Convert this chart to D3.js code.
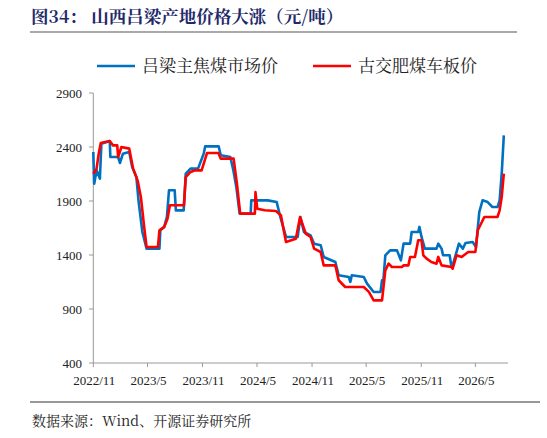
<!DOCTYPE html>
<html><head><meta charset="utf-8">
<script src="https://cdn.jsdelivr.net/npm/d3@7"></script>
<style>body{margin:0;background:#fff}</style>
</head><body>
<svg id="c" width="547" height="438"></svg>
<script>
var seriesNames = ["吕梁主焦煤市场价", "古交肥煤车板价"]
var seriesColors = ["#0070c0", "#ff0000"]
var yTicks = [400, 900, 1400, 1900, 2400, 2900]
var xTickLabels = ["2022/11", "2023/5", "2023/11", "2024/5", "2024/11", "2025/5", "2025/11", "2026/5"]

var lvliang = [
  ["2022-11-01",2354],["2022-11-04",2060],["2022-11-12",2184],["2022-11-23",2107],["2022-11-28",2431],
  ["2022-12-26",2455],["2022-12-28",2307],["2023-01-23",2307],["2023-01-29",2252],["2023-02-08",2338],
  ["2023-03-01",2354],["2023-03-11",2215],["2023-03-25",2122],["2023-04-01",1906],["2023-04-14",1613],
  ["2023-04-28",1459],["2023-06-10",1459],["2023-06-13",1628],["2023-06-26",1660],["2023-07-05",1752],
  ["2023-07-12",1999],["2023-07-31",1999],["2023-08-04",1813],["2023-08-30",1813],["2023-09-06",2153],
  ["2023-09-22",2200],["2023-10-17",2200],["2023-11-05",2338],["2023-11-10",2406],["2023-12-25",2406],
  ["2024-01-01",2323],["2024-02-02",2307],["2024-02-12",2184],["2024-02-22",2030],["2024-03-04",1783],
  ["2024-04-10",1783],["2024-04-12",1906],["2024-06-06",1906],["2024-07-06",1890],["2024-07-18",1752],
  ["2024-08-06",1567],["2024-09-14",1567],["2024-09-23",1752],["2024-10-05",1613],["2024-10-27",1582],
  ["2024-11-08",1505],["2024-11-30",1490],["2024-12-10",1382],["2025-01-18",1335],["2025-01-29",1212],
  ["2025-03-04",1196],["2025-03-09",1150],["2025-03-14",1212],["2025-04-23",1196],["2025-05-04",1135],
  ["2025-05-26",1058],["2025-06-18",1058],["2025-06-23",1166],["2025-06-27",1150],["2025-07-04",1397],
  ["2025-07-20",1443],["2025-08-12",1443],["2025-08-25",1351],["2025-09-03",1505],["2025-09-25",1505],
  ["2025-09-30",1613],["2025-10-22",1613],["2025-10-26",1660],["2025-11-02",1567],["2025-11-13",1459],
  ["2025-12-22",1459],["2025-12-28",1505],["2026-01-08",1459],["2026-01-13",1397],["2026-02-04",1397],
  ["2026-02-10",1289],["2026-02-14",1304],["2026-03-07",1505],["2026-03-20",1459],["2026-03-29",1511],
  ["2026-04-22",1520],["2026-05-03",1474],["2026-05-14",1798],["2026-05-25",1906],["2026-06-11",1890],
  ["2026-06-27",1844],["2026-07-14",1844],["2026-07-21",1906],["2026-07-28",2153],["2026-08-04",2508]
]
var gujiao = [
  ["2022-11-01",2153],["2022-11-12",2200],["2022-11-19",2338],["2022-11-26",2437],["2022-12-26",2455],
  ["2023-01-06",2415],["2023-01-20",2415],["2023-01-23",2307],["2023-02-03",2400],["2023-03-01",2385],
  ["2023-03-14",2200],["2023-03-29",2091],["2023-04-09",1937],["2023-04-20",1660],["2023-04-28",1474],
  ["2023-06-05",1474],["2023-06-10",1628],["2023-06-26",1660],["2023-07-07",1736],["2023-07-15",1860],
  ["2023-08-31",1860],["2023-09-06",2122],["2023-09-22",2169],["2023-10-08",2184],["2023-10-29",2184],
  ["2023-11-16",2344],["2023-12-24",2344],["2024-01-01",2292],["2024-02-13",2292],["2024-02-24",2060],
  ["2024-03-06",1783],["2024-04-24",1783],["2024-04-26",1983],["2024-05-02",1829],["2024-05-27",1814],
  ["2024-07-03",1807],["2024-07-20",1767],["2024-08-06",1520],["2024-09-08",1551],["2024-09-22",1752],
  ["2024-10-11",1597],["2024-10-27",1567],["2024-11-08",1459],["2024-11-30",1428],["2024-12-10",1304],
  ["2025-01-18",1304],["2025-01-29",1166],["2025-02-20",1104],["2025-04-23",1104],["2025-05-10",1058],
  ["2025-05-26",980],["2025-06-23",980],["2025-07-04",1258],["2025-07-15",1320],["2025-07-26",1289],
  ["2025-08-29",1289],["2025-09-03",1304],["2025-09-19",1304],["2025-09-25",1382],["2025-10-11",1382],
  ["2025-10-22",1536],["2025-11-02",1536],["2025-11-08",1397],["2025-11-19",1366],["2025-12-05",1335],
  ["2025-12-22",1320],["2025-12-28",1382],["2026-01-08",1304],["2026-02-10",1289],["2026-02-14",1273],
  ["2026-02-27",1397],["2026-03-16",1382],["2026-04-07",1428],["2026-05-01",1428],["2026-05-09",1629],
  ["2026-05-31",1752],["2026-07-14",1752],["2026-07-21",1814],["2026-07-28",1937],["2026-08-04",2153]
]

var parse = d3.timeParse("%Y-%m-%d")
var series = [lvliang, gujiao].map(function(s) {
  return s.map(function(d) { return { date: parse(d[0]), value: d[1] } })
})

var svg = d3.select("#c")
var serif = "'Liberation Serif', 'Times New Roman', serif"
var cjk = "'Noto Serif CJK SC', 'Noto Sans CJK SC', sans-serif"

// title
svg.append("text").attr("x", 31).attr("y", 23)
  .attr("font-family", cjk).attr("font-weight", "bold")
  .attr("font-size", 17.5).attr("fill", "#1f2a6b")
  .text("图34：  山西吕梁产地价格大涨（元/吨）")
svg.append("line").attr("x1", 30).attr("x2", 517).attr("y1", 32).attr("y2", 32)
  .attr("stroke", "#555").attr("stroke-width", 1.2)

var x = d3.scaleTime()
  .domain([parse("2022-11-01"), parse("2026-08-18")])
  .range([93.3, 508])
var y = d3.scaleLinear().domain([400, 2900]).range([363, 93])

// y axis
svg.append("line").attr("x1", 93.3).attr("x2", 93.3).attr("y1", 93).attr("y2", 363)
  .attr("stroke", "#999")
svg.selectAll(".yt").data(yTicks).enter().append("line")
  .attr("x1", 89).attr("x2", 93.3).attr("y1", y).attr("y2", y).attr("stroke", "#999")
svg.selectAll(".yl").data(yTicks).enter().append("text")
  .attr("x", 82).attr("y", function(d) { return y(d) + 4.5 })
  .attr("text-anchor", "end").attr("font-family", serif).attr("font-size", 13)
  .attr("fill", "#222").text(function(d) { return d })

// x axis
var xTickDates = xTickLabels.map(function(l) { return d3.timeParse("%Y/%m")(l) })
svg.append("line").attr("x1", 93.3).attr("x2", 508).attr("y1", 363).attr("y2", 363)
  .attr("stroke", "#999")
svg.selectAll(".xt").data(xTickDates).enter().append("line")
  .attr("x1", x).attr("x2", x).attr("y1", 363).attr("y2", 367).attr("stroke", "#999")
svg.selectAll(".xl").data(xTickLabels).enter().append("text")
  .attr("x", function(d, i) { return x(xTickDates[i]) + 1 }).attr("y", 385)
  .attr("text-anchor", "middle").attr("font-family", serif).attr("font-size", 13)
  .attr("fill", "#222").text(function(d) { return d })

// lines
var line = d3.line().x(function(d) { return x(d.date) }).y(function(d) { return y(d.value) })
series.forEach(function(s, i) {
  svg.append("path").datum(s).attr("d", line).attr("fill", "none")
    .attr("stroke", seriesColors[i]).attr("stroke-width", 2.6).attr("stroke-linejoin", "round")
})

// legend
var legX = [97, 313]
seriesNames.forEach(function(n, i) {
  svg.append("line").attr("x1", legX[i]).attr("x2", legX[i] + 38).attr("y1", 66).attr("y2", 66)
    .attr("stroke", seriesColors[i]).attr("stroke-width", 2.6)
  svg.append("text").attr("x", legX[i] + 45).attr("y", 72)
    .attr("font-family", cjk).attr("font-size", 17).attr("fill", "#222")
    .text(n)
})

// footer
svg.append("line").attr("x1", 30).attr("x2", 540).attr("y1", 402).attr("y2", 402)
  .attr("stroke", "#333").attr("stroke-width", 1)
svg.append("text").attr("x", 32).attr("y", 426)
  .attr("font-family", cjk).attr("font-size", 14).attr("fill", "#222")
  .text("数据来源：Wind、开源证券研究所")
</script>
</body></html>
